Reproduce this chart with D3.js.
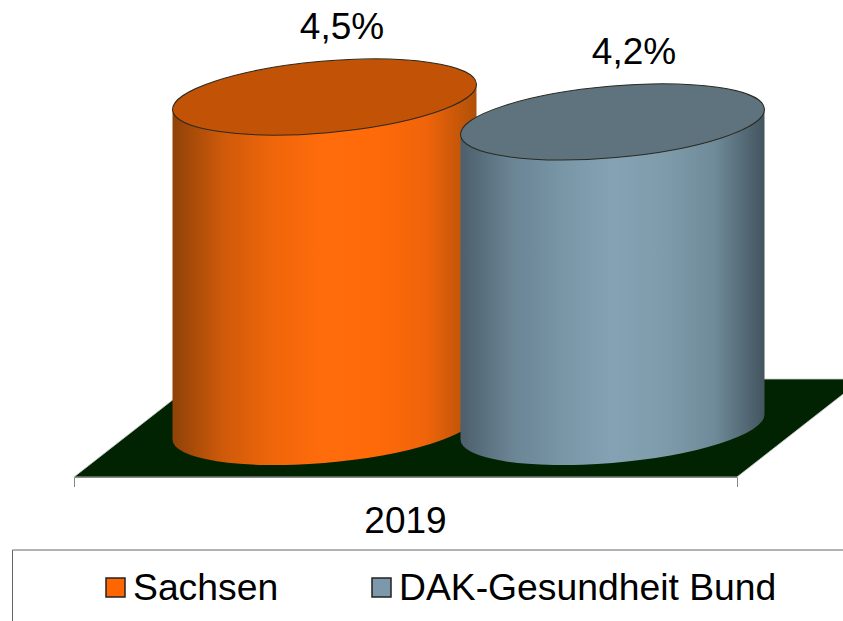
<!DOCTYPE html>
<html>
<head>
<meta charset="utf-8">
<script src="https://cdn.jsdelivr.net/npm/d3@7"></script>
<style>
  html, body { margin: 0; padding: 0; background: #fff; overflow: hidden; }
  text { font-family: "Liberation Sans", Arial, sans-serif; fill: #000; }
</style>
</head>
<body>
<div id="chart"></div>
<script>
const years = ["2019"];
const series = ["Sachsen", "DAK-Gesundheit Bund"];
const values = [4.5, 4.16];   // labelled 4,5% and 4,2%
const sideColors = [
  ["#8f4208", "#cf5a0a", "#f0660a", "#ff6c0c", "#ff6a08", "#f0640a", "#b05008"],
  ["#4c5f6b", "#6a8494", "#7896a6", "#84a2b3", "#7f9cac", "#6f8b9a", "#43555f"]
];
const topColors = ["#c25206", "#5e737d"];
const swatchColors = ["#ff6600", "#7b99aa"];

const width = 843, height = 621;

const svg = d3.select("#chart").append("svg")
  .attr("width", width)
  .attr("height", height)
  .attr("viewBox", `0 0 ${width} ${height}`);

const x = d3.scaleBand().domain(years).range([74, 737]);
const bar = d3.scalePoint().domain(series).range([324.5, 612.5]);
const y = d3.scaleLinear().domain([0, 4.5]).range([427, 97]);

const floorY = 477, depth = 98, skew = 1.28;
const ellipseA = 152.5, ellipseB = 35.8, tilt = -5;
const edgeX = 152, edgeY = 12.5;
const labelShift = [17.5, 21.5];

// Floor
svg.append("path")
  .attr("d", `M${x.range()[0]},${floorY}L${x.range()[1]},${floorY}` +
    `L${x.range()[1] + depth * skew},${floorY - depth}L${x.range()[0] + depth * skew},${floorY - depth}Z`)
  .attr("fill", "#012301")
  .attr("stroke", "#c9cfc9")
  .attr("stroke-width", 0.8);

// Axis
const axis = svg.append("g")
  .attr("transform", `translate(0,${floorY})`)
  .call(d3.axisBottom(x).tickSizeInner(0).tickSizeOuter(10).tickPadding(30));
axis.select(".domain").attr("stroke", "#888");
axis.selectAll("text").attr("font-size", 37).attr("fill", "#000").attr("font-family", null);

// Gradients
const defs = svg.append("defs");
series.forEach((s, i) => {
  const g = defs.append("linearGradient").attr("id", `side${i}`);
  sideColors[i].forEach((c, j) => {
    g.append("stop").attr("offset", j / (sideColors[i].length - 1)).attr("stop-color", c);
  });
});

// Cylinders
const ellipse = `A${ellipseA},${ellipseB} ${tilt} 0 0`;
series.forEach((s, i) => {
  const cx = bar(s), yTop = y(values[i]), yBase = y(0);
  svg.append("path")
    .attr("d", `M${cx - edgeX},${yTop + edgeY}L${cx - edgeX},${yBase + edgeY}` +
      `${ellipse} ${cx + edgeX},${yBase - edgeY}L${cx + edgeX},${yTop - edgeY}Z`)
    .attr("fill", `url(#side${i})`);
  svg.append("ellipse")
    .attr("rx", ellipseA)
    .attr("ry", ellipseB)
    .attr("transform", `translate(${cx},${yTop}) rotate(${tilt})`)
    .attr("fill", topColors[i])
    .attr("stroke", "#2a2a20")
    .attr("stroke-width", 1);
  svg.append("text")
    .attr("x", cx + labelShift[i])
    .attr("y", yTop - 58)
    .attr("text-anchor", "middle")
    .attr("font-size", 37)
    .text(d3.format(".1f")(values[i]).replace(".", ",") + "%");
});

// Legend
svg.append("path")
  .attr("d", `M${width},550H12.5V${height}`)
  .attr("fill", "none")
  .attr("stroke", "#666")
  .attr("stroke-width", 1);
const legendX = [105, 371];
series.forEach((s, i) => {
  svg.append("rect")
    .attr("x", legendX[i] + 1)
    .attr("y", 578)
    .attr("width", 19)
    .attr("height", 19)
    .attr("fill", swatchColors[i])
    .attr("stroke", "#222")
    .attr("stroke-width", 1.5);
  svg.append("text")
    .attr("x", legendX[i] + 28)
    .attr("y", 600)
    .attr("font-size", 37.3)
    .text(s);
});
</script>
</body>
</html>
